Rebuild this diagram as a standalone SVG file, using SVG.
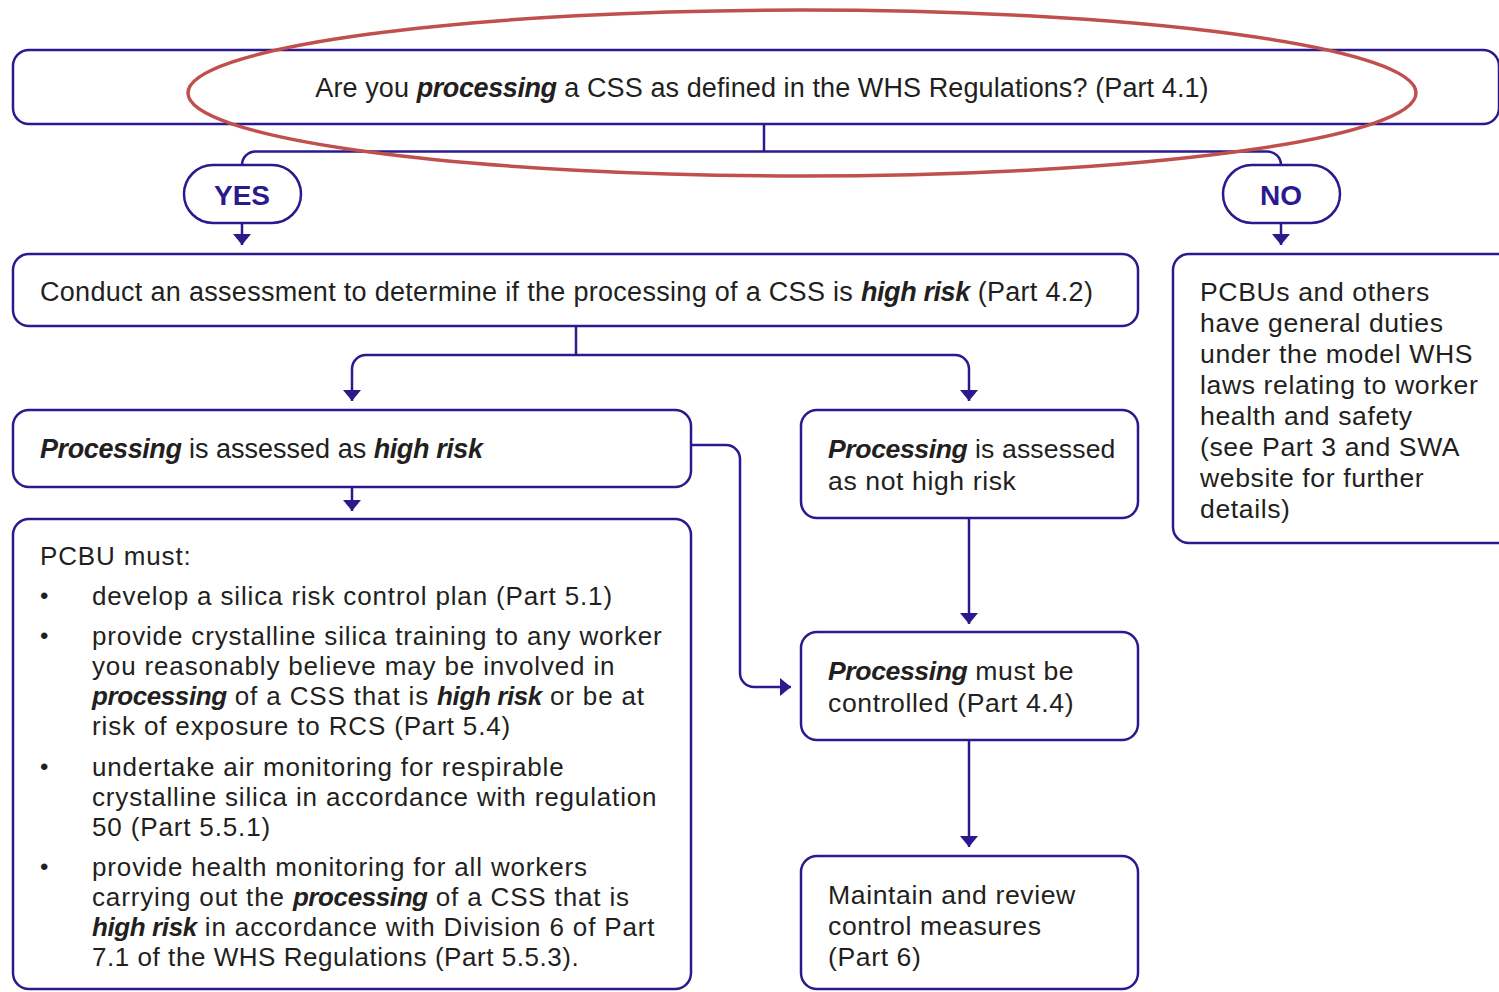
<svg xmlns="http://www.w3.org/2000/svg" width="1499" height="992" viewBox="0 0 1499 992">
  <style>
    .box { fill: #ffffff; stroke: #2b1a8e; stroke-width: 2.5; }
    .edge { fill: none; stroke: #2b1a8e; stroke-width: 2.5; }
    .t { font-family: "Liberation Sans", Arial, sans-serif; font-size: 27px; fill: #231f20; }
    .s { font-family: "Liberation Sans", Arial, sans-serif; font-size: 26.6px; letter-spacing: 0.6px; fill: #231f20; }
    .n { font-family: "Liberation Sans", Arial, sans-serif; font-size: 26px; letter-spacing: 0.85px; fill: #231f20; }
    .dot { font-family: "Liberation Sans", Arial, sans-serif; font-size: 24px; fill: #231f20; }
    .bi { font-weight: 700; font-style: italic; letter-spacing: -0.4px; }
    .pill { font-family: "Liberation Sans", Arial, sans-serif; font-weight: 700; font-size: 28px; fill: #2b1a8e; }
    .mark { fill: none; stroke: #c0504d; stroke-width: 3.5; }
  </style>
  <defs>
    <marker id="arrow" viewBox="0 0 11 18" refX="11" refY="9" markerWidth="11" markerHeight="18" markerUnits="userSpaceOnUse" orient="auto">
      <path d="M0,0 L11,9 L0,18 Z" fill="#2b1a8e"/>
    </marker>
  </defs>

  <rect width="1499" height="992" fill="#ffffff"/>

  <!-- connectors -->
  <g id="connectors">
    <path class="edge" d="M764,124 V151.5"/>
    <path class="edge" d="M242,165 A13.5,13.5 0 0 1 255.5,151.5 H1267.5 A13.5,13.5 0 0 1 1281,165"/>
    <path class="edge" d="M242,223 V245" marker-end="url(#arrow)"/>
    <path class="edge" d="M1281,223 V245" marker-end="url(#arrow)"/>
    <path class="edge" d="M576,326 V355"/>
    <path class="edge" d="M576,355 H366 A14,14 0 0 0 352,369 V401" marker-end="url(#arrow)"/>
    <path class="edge" d="M576,355 H955 A14,14 0 0 1 969,369 V401" marker-end="url(#arrow)"/>
    <path class="edge" d="M352,487 V511" marker-end="url(#arrow)"/>
    <path class="edge" d="M691,445 H726 A14,14 0 0 1 740,459 V673 A14,14 0 0 0 754,687 H791" marker-end="url(#arrow)"/>
    <path class="edge" d="M969,518 V624" marker-end="url(#arrow)"/>
    <path class="edge" d="M969,740 V847" marker-end="url(#arrow)"/>
  </g>

  <!-- question -->
  <g id="question">
    <rect class="box" x="13" y="50" width="1486" height="74" rx="16"/>
    <text class="t" x="762" y="97" text-anchor="middle" style="letter-spacing:0.1px">Are you <tspan class="bi">processing</tspan> a CSS as defined in the WHS Regulations? (Part 4.1)</text>
  </g>

  <g id="yes">
    <rect class="box" x="184" y="165" width="117" height="58" rx="29"/>
    <text class="pill" x="242" y="205" text-anchor="middle">YES</text>
  </g>

  <g id="no">
    <rect class="box" x="1223" y="165" width="117" height="58" rx="29"/>
    <text class="pill" x="1281" y="205" text-anchor="middle">NO</text>
  </g>

  <g id="assessment">
    <rect class="box" x="13" y="254" width="1125" height="72" rx="16"/>
    <text class="t" x="40" y="301" style="letter-spacing:0.3px">Conduct an assessment to determine if the processing of a CSS is <tspan class="bi">high risk</tspan> (Part 4.2)</text>
  </g>

  <g id="general-duties">
    <rect class="box" x="1173" y="254" width="345" height="289" rx="16"/>
    <text class="s" x="1200" y="301">PCBUs and others</text>
    <text class="s" x="1200" y="332">have general duties</text>
    <text class="s" x="1200" y="363">under the model WHS</text>
    <text class="s" x="1200" y="394">laws relating to worker</text>
    <text class="s" x="1200" y="425">health and safety</text>
    <text class="s" x="1200" y="456">(see Part 3 and SWA</text>
    <text class="s" x="1200" y="487">website for further</text>
    <text class="s" x="1200" y="518">details)</text>
  </g>

  <g id="high-risk">
    <rect class="box" x="13" y="410" width="678" height="77" rx="16"/>
    <text class="t" x="40" y="458"><tspan class="bi">Processing</tspan> is assessed as <tspan class="bi">high risk</tspan></text>
  </g>

  <g id="not-high-risk">
    <rect class="box" x="801" y="410" width="337" height="108" rx="16"/>
    <text class="s" x="828" y="458" style="letter-spacing:0.15px"><tspan class="bi">Processing</tspan> is assessed</text>
    <text class="s" x="828" y="490">as not high risk</text>
  </g>

  <g id="pcbu-duties">
    <rect class="box" x="13" y="519" width="678" height="470" rx="16"/>
    <text class="n" x="40" y="565">PCBU must:</text>
    <text class="dot" x="40" y="604">•</text>
    <text class="n" x="92" y="605">develop a silica risk control plan (Part 5.1)</text>
    <text class="dot" x="40" y="644">•</text>
    <text class="n" x="92" y="645">provide crystalline silica training to any worker</text>
    <text class="n" x="92" y="675">you reasonably believe may be involved in</text>
    <text class="n" x="92" y="705"><tspan class="bi">processing</tspan> of a CSS that is <tspan class="bi">high risk</tspan> or be at</text>
    <text class="n" x="92" y="735">risk of exposure to RCS (Part 5.4)</text>
    <text class="dot" x="40" y="775">•</text>
    <text class="n" x="92" y="776">undertake air monitoring for respirable</text>
    <text class="n" x="92" y="806">crystalline silica in accordance with regulation</text>
    <text class="n" x="92" y="836">50 (Part 5.5.1)</text>
    <text class="dot" x="40" y="875">•</text>
    <text class="n" x="92" y="876">provide health monitoring for all workers</text>
    <text class="n" x="92" y="906">carrying out the <tspan class="bi">processing</tspan> of a CSS that is</text>
    <text class="n" x="92" y="936"><tspan class="bi">high risk</tspan> in accordance with Division 6 of Part</text>
    <text class="n" x="92" y="966" style="letter-spacing:0.55px">7.1 of the WHS Regulations (Part 5.5.3).</text>
  </g>

  <g id="controlled">
    <rect class="box" x="801" y="632" width="337" height="108" rx="16"/>
    <text class="s" x="828" y="680"><tspan class="bi">Processing</tspan> must be</text>
    <text class="s" x="828" y="712">controlled (Part 4.4)</text>
  </g>

  <g id="maintain">
    <rect class="box" x="801" y="856" width="337" height="133" rx="16"/>
    <text class="s" x="828" y="904">Maintain and review</text>
    <text class="s" x="828" y="935">control measures</text>
    <text class="s" x="828" y="966">(Part 6)</text>
  </g>

  <!-- highlight ring around the opening question -->
  <ellipse class="mark" cx="802" cy="93" rx="614" ry="83"/>
</svg>
